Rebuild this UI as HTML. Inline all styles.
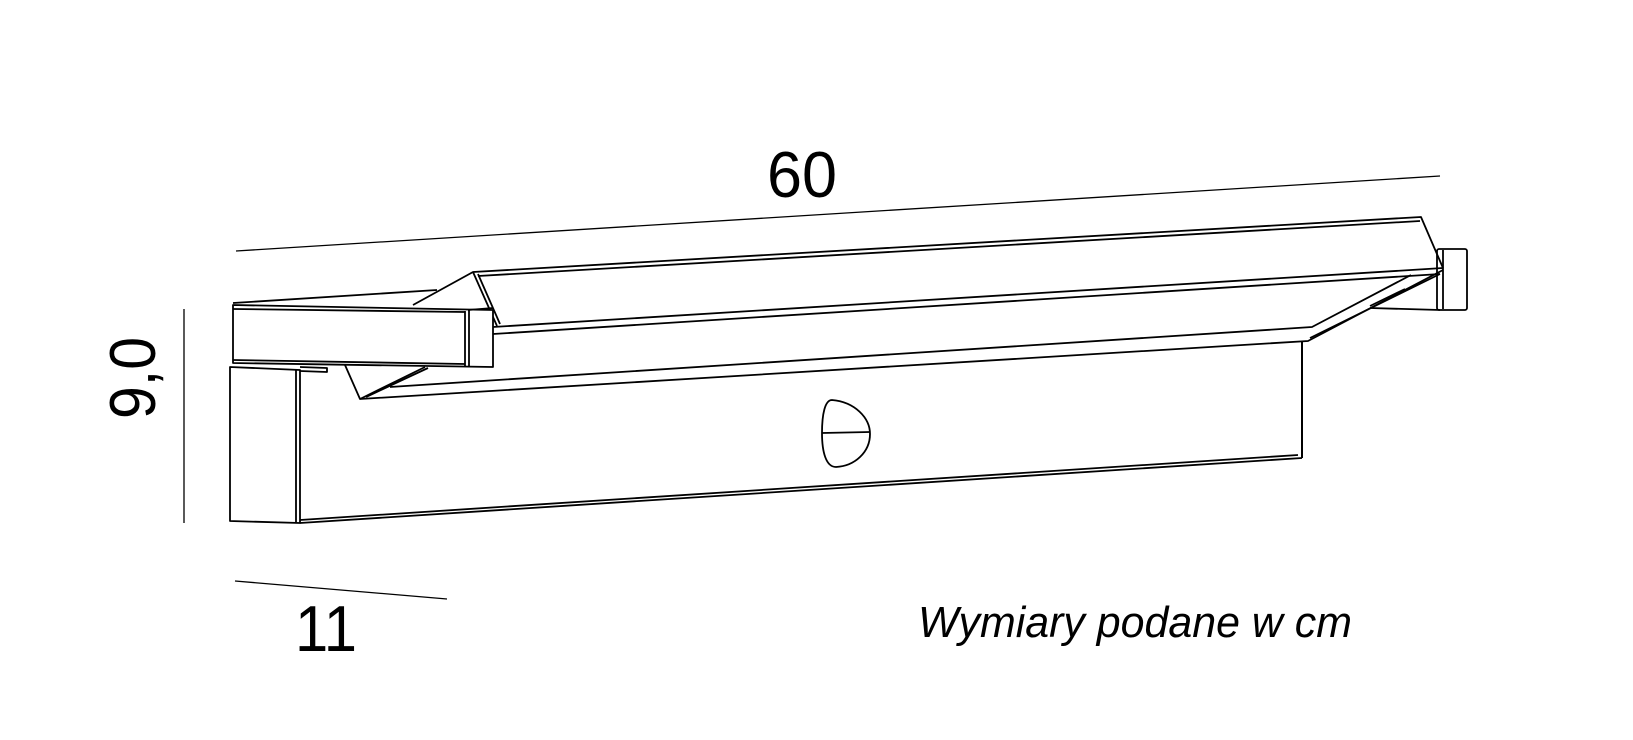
<!DOCTYPE html>
<html><head><meta charset="utf-8"><style>
html,body{margin:0;padding:0;background:#fff;width:1633px;height:740px;overflow:hidden}
</style></head><body>
<svg width="1633" height="740" viewBox="0 0 1633 740" xmlns="http://www.w3.org/2000/svg">
<g fill="none" stroke="#000" stroke-width="1.8" stroke-linejoin="round">
<!-- dimension lines -->
<line x1="236" y1="251" x2="1440" y2="176" stroke-width="1.3"/>
<line x1="184" y1="309" x2="184" y2="523" stroke-width="1.3"/>
<line x1="235" y1="581" x2="447" y2="599" stroke-width="1.3"/>
<!-- top panel -->
<polyline points="413,305 473,272 1421,217 1443,268"/>
<line x1="478" y1="276" x2="1420" y2="221"/>
<line x1="473" y1="272" x2="497" y2="326"/>
<line x1="478" y1="274" x2="500" y2="324"/>
<line x1="493" y1="327" x2="1443" y2="268"/>
<line x1="493" y1="334" x2="1440" y2="274"/>
<!-- tray -->
<polyline points="390,387 1312,327 1411,275"/>
<polyline points="1443,270 1308,341 360,399 345,365"/>
<line x1="360" y1="399" x2="425" y2="367"/>
<line x1="366" y1="397" x2="428" y2="368"/>
<line x1="1440" y1="274" x2="1310" y2="338"/>
<!-- body -->
<line x1="1302" y1="342" x2="1302" y2="458" stroke-width="2"/>
<line x1="300" y1="523" x2="1302" y2="458"/>
<line x1="300" y1="520" x2="1298" y2="455"/>
<!-- sensor -->
<path d="M832,400 C855,402 870,418 870,434 C870,452 855,466 836,467 C826,467 822,452 822,433 C822,414 825,400 832,400 Z"/>
<line x1="822" y1="433" x2="870" y2="432"/>
<!-- wall plate -->
<polygon points="230,367 300,370 300,523 230,521"/>
<line x1="296" y1="370" x2="296" y2="522"/>
<polyline points="300,367 327,368 327,372 300,371"/>
<!-- arm -->
<polyline points="233,303 437,290"/>
<polygon points="233,305 493,310 493,367 233,363" fill="#fff"/>
<line x1="233" y1="309" x2="465" y2="312"/>
<line x1="465" y1="311" x2="465" y2="367"/>
<line x1="469" y1="310" x2="469" y2="367"/>
<line x1="468" y1="310" x2="493" y2="308"/>
<line x1="233" y1="360" x2="465" y2="364"/>
<!-- right bracket -->
<rect x="1437" y="249" width="30" height="61" rx="2"/>
<line x1="1443" y1="250" x2="1443" y2="309"/>
<line x1="1370" y1="308" x2="1440" y2="310"/>
<line x1="1370" y1="306" x2="1405" y2="289"/>
</g>
<g font-family="Liberation Sans, sans-serif" fill="#000">
<text x="802" y="197" font-size="65" text-anchor="middle" textLength="70" lengthAdjust="spacingAndGlyphs">60</text>
<text transform="translate(155,378) rotate(-90)" font-size="65" text-anchor="middle" textLength="82" lengthAdjust="spacingAndGlyphs">9,0</text>
<text x="326" y="651" font-size="65" text-anchor="middle" textLength="62" lengthAdjust="spacingAndGlyphs">11</text>
<text x="918" y="637" font-size="44" font-style="italic" textLength="434" lengthAdjust="spacingAndGlyphs">Wymiary podane w cm</text>
</g>
</svg>
</body></html>
